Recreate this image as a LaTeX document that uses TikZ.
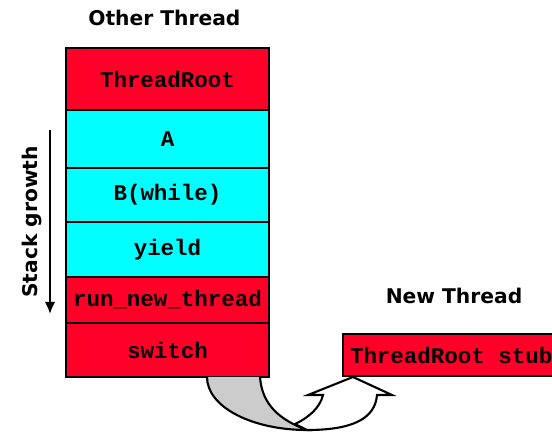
\documentclass[tikz,border=0pt]{standalone}
\usepackage{fontspec}
\usetikzlibrary{arrows.meta}
\newfontfamily\labelfont{DejaVu Sans}
\newfontfamily\codefont{Liberation Mono}
\definecolor{framered}{RGB}{255,0,40}
\definecolor{framecyan}{RGB}{0,255,255}
\definecolor{twistgray}{RGB}{204,204,204}
\begin{document}
\begin{tikzpicture}[
  frame/.style={draw,line width=1.5pt,inner sep=0pt,outer sep=0pt,
    minimum width=5.075cm,font=\codefont\bfseries\fontsize{16}{18}\selectfont},
  title/.style={font=\labelfont\bfseries\fontsize{14.4}{16}\selectfont}]
\useasboundingbox (0,0) rectangle (13.8,10.8);

\node[title] (other) at (4.11,10.35) {Other Thread};
\node[title] (new) at (11.35,3.4) {New Thread};

\node[frame,fill=framered,minimum height=1.55cm] (root) at (4.1875,8.825) {ThreadRoot};
\node[frame,fill=framecyan,minimum height=1.45cm] (a) at (4.1875,7.325) {A};
\node[frame,fill=framecyan,minimum height=1.35cm] (b) at (4.1875,5.925) {B(while)};
\node[frame,fill=framecyan,minimum height=1.375cm] (yield) at (4.1875,4.5625) {yield};
\node[frame,fill=framered,minimum height=1.15cm] (runnew) at (4.1875,3.3) {run\_new\_thread};
\node[frame,fill=framered,minimum height=1.35cm] (switch) at (4.1875,2.05) {switch};

\node[frame,fill=framered,minimum height=1.05cm,minimum width=6cm,
  anchor=west] (stub) at (8.575,1.925) {};
\node[frame,draw=none,minimum width=0pt,anchor=west] (stubtext) at (8.75,1.925)
  {ThreadRoot\ stub};

\coordinate (growtop) at (1.25,7.55);
\coordinate (growbot) at (1.25,2.95);
\draw[line width=1.5pt,-{Latex[length=0.3cm,width=0.26cm]}] (growtop) -- (growbot);
\node[title,rotate=90] (growth) at (0.8,5.25) {Stack growth};

\draw[line width=1.5pt,fill=twistgray] (5.175,1.375)
  .. controls (5.175,0.625) and (6.3,0.05) .. (7.675,0.05)
  .. controls (7.0,0.3) and (6.55,0.675) .. (6.5,1.375);
\draw[line width=1.5pt,fill=white,line join=miter] (7.675,0.05)
  .. controls (8.75,0.05) and (9.375,0.3) .. (9.425,0.925)
  -- (9.8,0.925) -- (8.825,1.375) -- (7.7,0.925) -- (8.075,0.925)
  .. controls (8.0,0.6) and (7.7,0.35) .. (7.375,0.2) -- cycle;
\end{tikzpicture}
\end{document}
